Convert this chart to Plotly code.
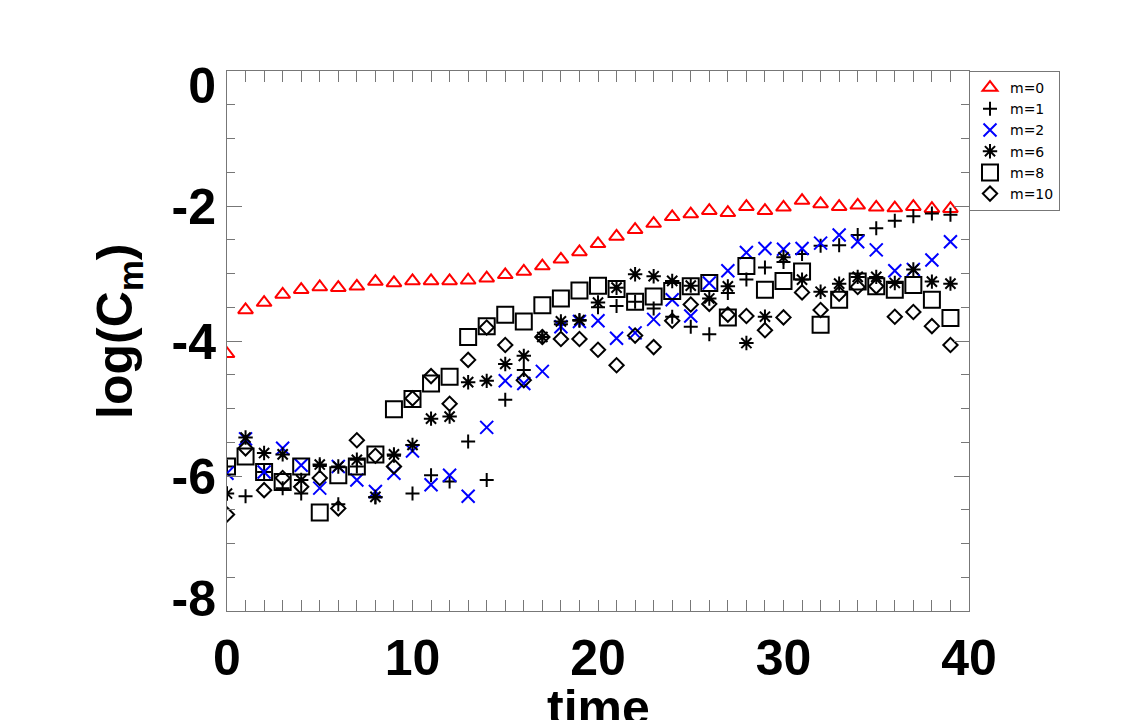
import plotly.graph_objects as go

# ---- data ----
time = list(range(40))

m0 = [-4.19, -3.54, -3.43, -3.31, -3.24, -3.20, -3.21, -3.19, -3.12, -3.14,
      -3.11, -3.11, -3.11, -3.10, -3.07, -3.02, -2.97, -2.89, -2.79, -2.68,
      -2.56, -2.45, -2.35, -2.26, -2.16, -2.12, -2.07, -2.10, -2.01, -2.07,
      -2.02, -1.92, -1.97, -2.01, -1.99, -2.02, -2.03, -2.01, -2.04, -2.04]
m1 = [-5.86, -6.30, -5.94, -6.18, -6.26, -5.85, -6.42, -5.86, -6.32, -5.70,
      -6.26, -5.99, -6.08, -5.49, -6.06, -4.87, -4.43, -3.94, -3.75, -3.70,
      -3.50, -3.48, -3.42, -3.52, -3.64, -3.79, -3.90, -3.29, -3.09, -2.91,
      -2.83, -2.71, -2.59, -2.58, -2.43, -2.33, -2.22, -2.15, -2.11, -2.13]
m2 = [-5.96, -5.45, -5.94, -5.59, -5.84, -6.18, -5.86, -6.06, -6.23, -5.96,
      -5.63, -6.13, -5.99, -6.30, -5.28, -4.59, -4.63, -4.45, -3.79, -3.71,
      -3.70, -3.96, -3.88, -3.68, -3.39, -3.63, -3.14, -2.96, -2.69, -2.63,
      -2.64, -2.63, -2.55, -2.43, -2.53, -2.65, -2.96, -2.94, -2.80, -2.53]
m6 = [-6.26, -5.43, -5.66, -5.68, -6.06, -5.83, -5.86, -5.76, -6.31, -5.68,
      -5.54, -5.15, -5.12, -4.61, -4.59, -4.34, -4.22, -3.94, -3.71, -3.69,
      -3.43, -3.21, -3.01, -3.04, -3.11, -3.18, -3.37, -3.19, -4.03, -3.64,
      -2.76, -3.09, -3.27, -3.15, -3.05, -3.05, -3.14, -2.94, -3.12, -3.15]
m8 = [-5.86, -5.71, -5.94, -6.09, -5.86, -6.54, -5.99, -5.86, -5.68, -5.01,
      -4.86, -4.63, -4.53, -3.94, -3.78, -3.61, -3.71, -3.47, -3.37, -3.25,
      -3.18, -3.23, -3.42, -3.34, -3.26, -3.19, -3.14, -3.65, -2.89, -3.24,
      -3.11, -2.97, -3.76, -3.39, -3.12, -3.19, -3.24, -3.17, -3.39, -3.66]
m10 = [-6.57, -5.59, -6.21, -6.03, -6.16, -6.03, -6.48, -5.47, -5.70, -5.86,
       -4.85, -4.52, -4.93, -4.28, -3.80, -4.06, -4.58, -3.94, -3.97, -3.97,
       -4.13, -4.36, -3.92, -4.09, -3.70, -3.46, -3.45, -3.61, -3.63, -3.84,
       -3.65, -3.28, -3.54, -3.30, -3.20, -3.19, -3.64, -3.57, -3.78, -4.06]

series_names = ["m=0", "m=1", "m=2", "m=6", "m=8", "m=10"]
x_tickvals = [0, 10, 20, 30, 40]
x_ticktext = ["0", "10", "20", "30", "40"]
y_tickvals = [0, -2, -4, -6, -8]
y_ticktext = ["0", "-2", "-4", "-6", "-8"]
# label anchor positions (end labels nudged inward, as in the original)
y_label_pos = [-0.21, -2, -4, -6, -7.81]
x_title = "time"
y_title = "log(C<sub>m</sub>)"

# ---- styles ----
styles = [
    dict(symbol="triangle-up-open", size=13, color="#ff0000"),
    dict(symbol="cross-thin-open", size=10, color="#000000"),
    dict(symbol="x-thin-open", size=13, color="#0000ff"),
    dict(symbol="asterisk-open", size=12, color="#000000"),
    dict(symbol="square-open", size=16, color="#000000"),
    dict(symbol="diamond-open", size=11, color="#000000"),
]

fig = go.Figure()
for name, vals, st in zip(series_names, [m0, m1, m2, m6, m8, m10], styles):
    fig.add_trace(go.Scatter(
        x=time, y=vals, mode="markers", name=name,
        marker=dict(symbol=st["symbol"], size=st["size"], color=st["color"],
                    line=dict(width=2, color=st["color"])),
    ))
# empty helper trace so the label-only overlay axis is drawn
fig.add_trace(go.Scatter(x=[], y=[], yaxis="y2", showlegend=False, hoverinfo="skip"))

axis_col = "#777777"
bold = "Liberation Sans"
big = dict(family=bold, size=50, color="black", weight="bold")

fig.update_layout(
    width=1142, height=720,
    margin=dict(l=219, r=181, t=63, b=117, autoexpand=False),
    paper_bgcolor="white", plot_bgcolor="white",
    showlegend=True,
    legend=dict(x=1.0, xanchor="left", y=1.0, yanchor="top",
                bordercolor=axis_col, borderwidth=1, bgcolor="white",
                font=dict(family="DejaVu Sans", size=14, color="black"),
                tracegroupgap=0, itemwidth=30,
                entrywidth=66, entrywidthmode="pixels"),
    xaxis=dict(
        range=[0, 40], showgrid=False, zeroline=False, automargin=False,
        showline=True, linecolor=axis_col, linewidth=1, mirror="allticks",
        ticks="inside", ticklen=11, tickcolor=axis_col, tickwidth=1,
        tickvals=x_tickvals, ticktext=x_ticktext,
        tickfont=big, ticklabelstandoff=3,
        minor=dict(dtick=1, ticks="inside", ticklen=5, tickcolor=axis_col, tickwidth=1),
    ),
    yaxis=dict(
        range=[-8, 0], showgrid=False, zeroline=False, automargin=False,
        showline=True, linecolor=axis_col, linewidth=1, mirror="allticks",
        ticks="inside", ticklen=15, tickcolor=axis_col, tickwidth=1,
        tickvals=y_tickvals, showticklabels=False,
        minor=dict(dtick=0.5, ticks="inside", ticklen=8, tickcolor=axis_col, tickwidth=1),
    ),
    yaxis2=dict(
        range=[-8, 0], overlaying="y", side="left", anchor="x",
        showgrid=False, zeroline=False, automargin=False, showline=False,
        ticks="", tickvals=y_label_pos, ticktext=y_ticktext,
        tickfont=big, ticklabelstandoff=10,
    ),
    annotations=[
        dict(text=x_title, xref="paper", yref="paper", x=0.5, y=0,
             xanchor="center", yanchor="top", yshift=-67, showarrow=False,
             font=big),
        dict(text=y_title, xref="paper", yref="paper", x=0, y=0.5,
             xanchor="center", yanchor="middle", xshift=-109, yshift=10,
             textangle=-90, showarrow=False, font=big),
    ],
)

fig.write_html("out.html")
